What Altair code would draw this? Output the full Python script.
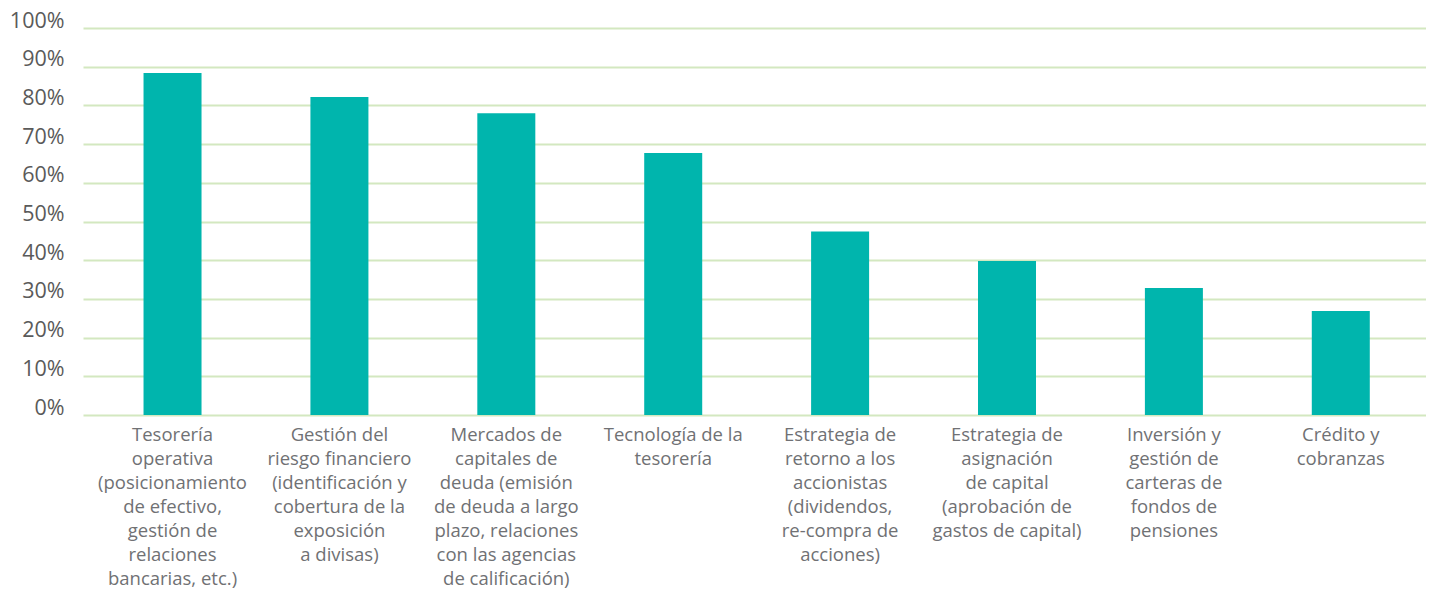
import altair as alt
import pandas as pd

categories = [
    "Tesorería\noperativa\n(posicionamiento\nde efectivo,\ngestión de\nrelaciones\nbancarias, etc.)",
    "Gestión del\nriesgo financiero\n(identificación y\ncobertura de la\nexposición\na divisas)",
    "Mercados de\ncapitales de\ndeuda (emisión\nde deuda a largo\nplazo, relaciones\ncon las agencias\nde calificación)",
    "Tecnología de la\ntesorería",
    "Estrategia de\nretorno a los\naccionistas\n(dividendos,\nre-compra de\nacciones)",
    "Estrategia de\nasignación\nde capital\n(aprobación de\ngastos de capital)",
    "Inversión y\ngestión de\ncarteras de\nfondos de\npensiones",
    "Crédito y\ncobranzas",
]
values = [88.4, 82.2, 78.0, 67.7, 47.4, 39.8, 32.8, 26.9]
y_ticks = [0, 10, 20, 30, 40, 50, 60, 70, 80, 90, 100]

df = pd.DataFrame({"cat": categories, "val": values})

chart = (
    alt.Chart(df)
    .mark_bar(color="#00b5ad", size=58)
    .encode(
        x=alt.X(
            "cat:N",
            sort=None,
            title=None,
            scale=alt.Scale(paddingInner=0.6, paddingOuter=0.3235, align=0.52),
            axis=alt.Axis(
                labelAngle=0,
                labelExpr="split(datum.label, '\\n')",
                labelFont="Open Sans",
                labelFontSize=18.5,
                labelColor="#707174",
                labelLineHeight=24.1,
                labelPadding=10,
                labelLimit=0,
                labelOverlap=False,
                labelFlush=False,
                ticks=False,
                domain=False,
                grid=False,
            ),
        ),
        y=alt.Y(
            "val:Q",
            title=None,
            scale=alt.Scale(domain=[0, 100], nice=False),
            axis=alt.Axis(
                values=y_ticks,
                labelExpr="datum.value + '%'",
                labelFont="Open Sans",
                labelFontSize=21.5,
                labelColor="#5a5a5a",
                labelPadding=19,
                labelOffset=-7,
                ticks=False,
                domain=False,
                grid=True,
                gridColor="#d3e8c0",
                gridWidth=2,
            ),
        ),
    )
    .properties(
        width=1343,
        height=387,
        autosize=alt.AutoSizeParams(type="none"),
        padding={"left": 75, "top": 20, "right": 0, "bottom": 175},
    )
    .configure_view(stroke=None)
    .configure_axis(gridOpacity=1)
)

chart.save("out.html", embed_options={"renderer": "svg", "actions": False})
